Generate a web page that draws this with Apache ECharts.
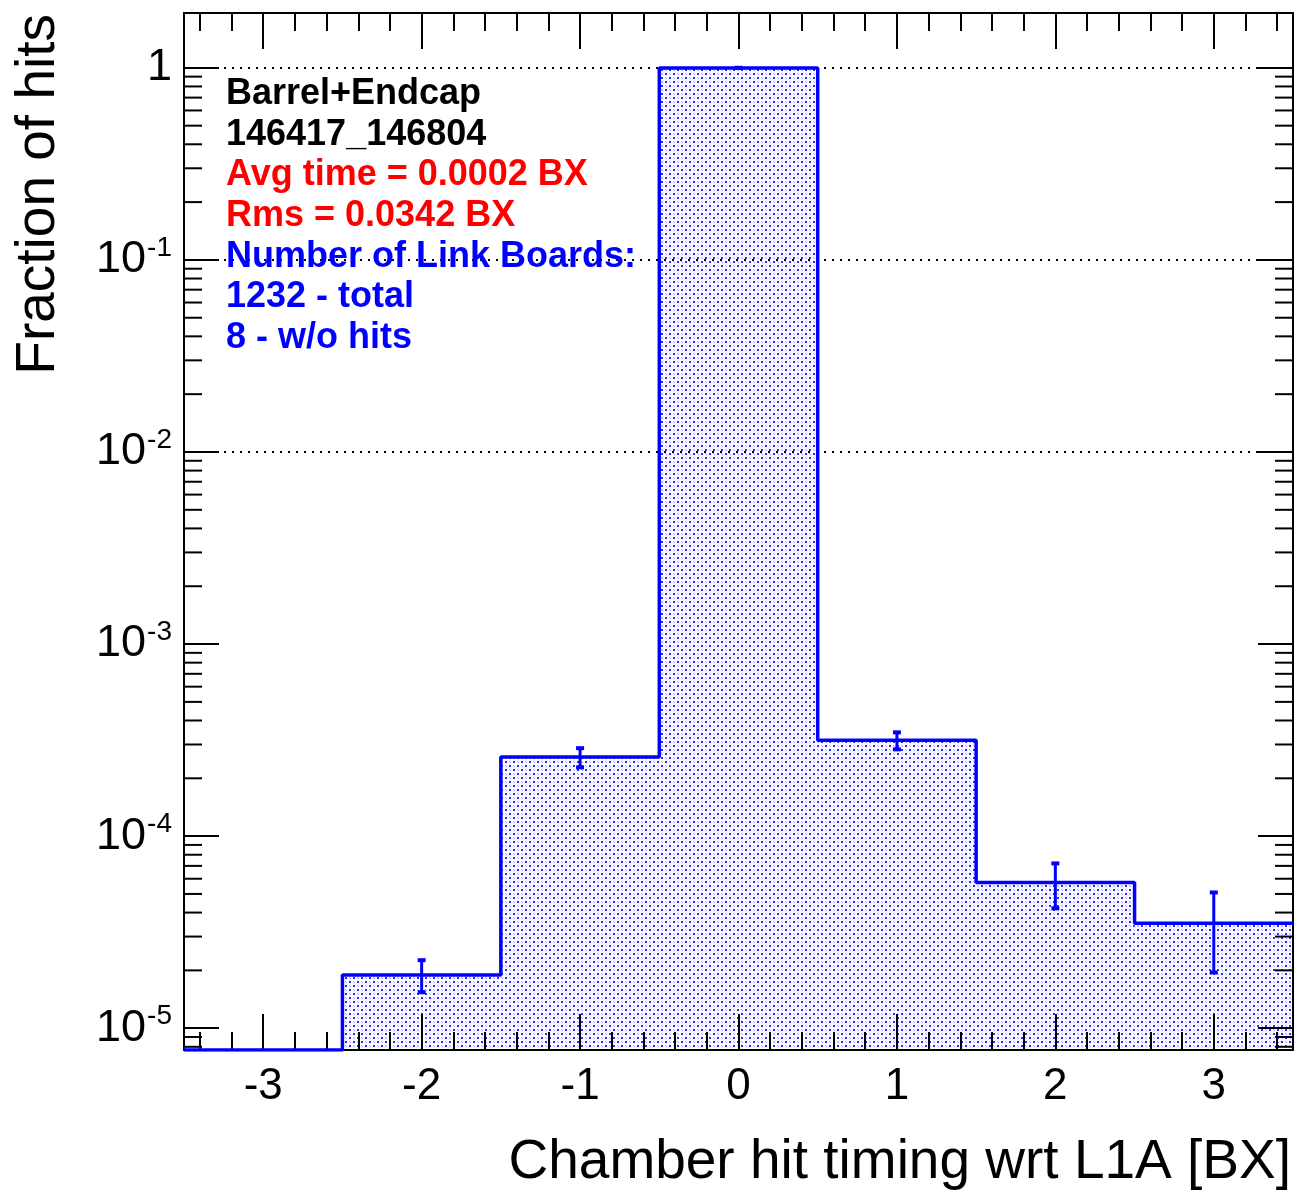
<!DOCTYPE html>
<html><head><meta charset="utf-8">
<script src="https://cdn.jsdelivr.net/npm/echarts@6/dist/echarts.min.js"></script>
<style>html,body{margin:0;padding:0;background:#fff}#c{width:1296px;height:1193px}</style>
</head><body><div id="c"></div>
<script>
// ---- data ----
const binCenters = [-3, -2, -1, 0, 1, 2, 3];
const fractions  = [0, 1.89e-5, 2.58e-4, 0.9996, 3.16e-4, 5.74e-5, 3.52e-5];
const errLow     = [0, 1.54e-5, 2.28e-4, 0.9986, 2.83e-4, 4.21e-5, 1.95e-5];
const errHigh    = [0, 2.26e-5, 2.87e-4, 1.0006, 3.47e-4, 7.21e-5, 5.09e-5];
const xTickLabels = ['-3', '-2', '-1', '0', '1', '2', '3'];
const yMajorTicks = [1e-5, 1e-4, 1e-3, 1e-2, 1e-1, 1];
const statsLines = ['Barrel+Endcap', '146417_146804', 'Avg time = 0.0002 BX', 'Rms = 0.0342 BX', 'Number of Link Boards:', '1232 - total', '8 - w/o hits'];
const statsColors = ['#000000', '#000000', '#ff0000', '#ff0000', '#0000ff', '#0000ff', '#0000ff'];
const xTitle = 'Chamber hit timing wrt L1A [BX]';
const yTitle = 'Fraction of hits';
const xMin = -3.5, xMax = 3.5, yMin = 7.7e-6, yMax = 1.93;
const binWidth = 1;

// minor log ticks (2..9 x 10^n)
const yMinorTicks = [];
for (let n = -6; n <= 0; n++) for (let k = 2; k <= 9; k++) {
  const v = k * Math.pow(10, n);
  if (v > yMin && v < yMax) yMinorTicks.push(v);
}

// ---- pattern fill ----
const pc = document.createElement('canvas'); pc.width = 8; pc.height = 8;
const g = pc.getContext('2d');
g.fillStyle = '#ffffff'; g.fillRect(0, 0, 8, 8);
g.fillStyle = '#2a2aff'; g.fillRect(1, 1, 2, 2); g.fillRect(5, 5, 2, 2);
g.fillStyle = '#9a9aff'; g.fillRect(5, 1, 1, 1); g.fillRect(1, 5, 1, 1); g.fillRect(6, 2, 1, 1); g.fillRect(2, 6, 1, 1);

const FONT = '"Liberation Sans", Arial, Helvetica, sans-serif';

// step outline points at bin edges
const stepData = [];
binCenters.forEach((c, i) => stepData.push([c - binWidth / 2, Math.max(fractions[i], yMin)]));
stepData.push([binCenters[binCenters.length - 1] + binWidth / 2, Math.max(fractions[fractions.length - 1], yMin)]);

const fillData = binCenters.map((c, i) => [c, fractions[i]]).filter(d => d[1] > 0);
const errData = binCenters.map((c, i) => [c, errLow[i], errHigh[i]]).filter(d => d[2] > 0);

function xAxisCfg(pos) {
  return {
    type: 'value', position: pos, min: xMin, max: xMax, splitNumber: 7, z: 10,
    axisLine: { onZero: false, lineStyle: { color: '#000', width: 2 } },
    axisTick: { inside: true, length: 36, lineStyle: { color: '#000', width: 2 } },
    minorTick: { show: true, splitNumber: 5, length: 18, lineStyle: { color: '#000', width: 2 } },
    splitLine: { show: false },
    axisLabel: {
      show: pos === 'bottom', fontSize: 44, color: '#000', fontFamily: FONT, margin: 15,
      formatter: v => (Number.isInteger(v) && v >= -3 && v <= 3) ? xTickLabels[v + 3] : ''
    }
  };
}
function yAxisCfg(pos) {
  return {
    type: 'log', logBase: 10, position: pos, min: yMin, max: yMax, z: 10,
    axisLine: { onZero: false, lineStyle: { color: '#000', width: 2 } },
    axisTick: { inside: true, length: 35, lineStyle: { color: '#000', width: 2 } },
    minorTick: { show: false },
    splitLine: { show: false },
    axisLabel: {
      show: pos === 'left', margin: 12, color: '#000',
      formatter: v => {
        const e = Math.log10(v);
        if (Math.abs(e - Math.round(e)) > 1e-6) return '';
        const r = Math.round(e);
        return r === 0 ? '{b|1}' : '{b|10}{s|' + r + '}';
      },
      rich: {
        b: { fontSize: 45, fontFamily: FONT, color: '#000', lineHeight: 52 },
        s: { fontSize: 28, fontFamily: FONT, color: '#000', verticalAlign: 'top', lineHeight: 52, padding: [0, 0, 0, 1] }
      }
    }
  };
}

const chart = echarts.init(document.getElementById('c'), null, { renderer: 'canvas' });
chart.setOption({
  animation: false,
  backgroundColor: '#ffffff',
  grid: { left: 184, right: 3, top: 13, bottom: 143, containLabel: false },
  xAxis: [xAxisCfg('bottom'), xAxisCfg('top')],
  yAxis: [yAxisCfg('left'), yAxisCfg('right')],
  series: [
    {
      type: 'custom', name: 'fill', z: 2, clip: true,
      data: fillData, encode: { x: 0, y: 1 },
      renderItem: (params, api) => {
        const c = api.value(0), v = api.value(1);
        const p1 = api.coord([c - binWidth / 2, v]);
        const p2 = api.coord([c + binWidth / 2, yMin]);
        return { type: 'rect', shape: { x: p1[0], y: p1[1], width: p2[0] - p1[0], height: p2[1] - p1[1] },
                 style: { fill: { image: pc, repeat: 'repeat' } } };
      }
    },
    {
      type: 'line', name: 'outline', z: 12, step: 'end', symbol: 'none',
      data: stepData,
      lineStyle: { color: '#0000ff', width: 3.5 },
      markLine: {
        silent: true, symbol: ['none', 'none'], label: { show: false }, animation: false,
        lineStyle: { color: '#000', type: [2, 6], width: 2 },
        data: yMajorTicks.map(v => ({ yAxis: v }))
      }
    },
    {
      type: 'custom', name: 'errors', z: 13,
      data: errData, encode: { x: 0, y: [1, 2] },
      renderItem: (params, api) => {
        const c = api.value(0);
        const lo = api.coord([c, api.value(1)]);
        const hi = api.coord([c, api.value(2)]);
        const st = { stroke: '#0000ff', lineWidth: 3 };
        const cap = { stroke: '#0000ff', lineWidth: 4 };
        return { type: 'group', children: [
          { type: 'line', shape: { x1: lo[0], y1: lo[1], x2: hi[0], y2: hi[1] }, style: st },
          { type: 'line', shape: { x1: lo[0] - 4, y1: lo[1], x2: lo[0] + 4, y2: lo[1] }, style: cap },
          { type: 'line', shape: { x1: hi[0] - 4, y1: hi[1], x2: hi[0] + 4, y2: hi[1] }, style: cap }
        ] };
      }
    },
    {
      type: 'custom', name: 'yminor', z: 14, silent: true,
      data: yMinorTicks.map(v => [xMin, v]), encode: { x: 0, y: 1 },
      renderItem: (params, api) => {
        const v = api.value(1);
        const pl = api.coord([xMin, v]);
        const pr = api.coord([xMax, v]);
        const st = { stroke: '#000', lineWidth: 2 };
        return { type: 'group', children: [
          { type: 'line', shape: { x1: pl[0], y1: pl[1], x2: pl[0] + 18, y2: pl[1] }, style: st },
          { type: 'line', shape: { x1: pr[0] - 18, y1: pr[1], x2: pr[0], y2: pr[1] }, style: st }
        ] };
      }
    }
  ],
  graphic: [
    ...statsLines.map((t, i) => ({
      type: 'text', x: 226, y: 94 + i * 40.67, z: 20,
      style: { text: t, fill: statsColors[i], font: 'bold 36px ' + FONT, align: 'left', verticalAlign: 'middle' }
    })),
    { type: 'text', x: 1291, y: 1163, z: 20,
      style: { text: xTitle, fill: '#000', font: '55px ' + FONT, align: 'right', verticalAlign: 'middle' } },
    { type: 'text', x: 39, y: 14, rotation: Math.PI / 2, z: 20,
      style: { text: yTitle, fill: '#000', font: '55px ' + FONT, align: 'right', verticalAlign: 'middle' } }
  ]
});
</script></body></html>
